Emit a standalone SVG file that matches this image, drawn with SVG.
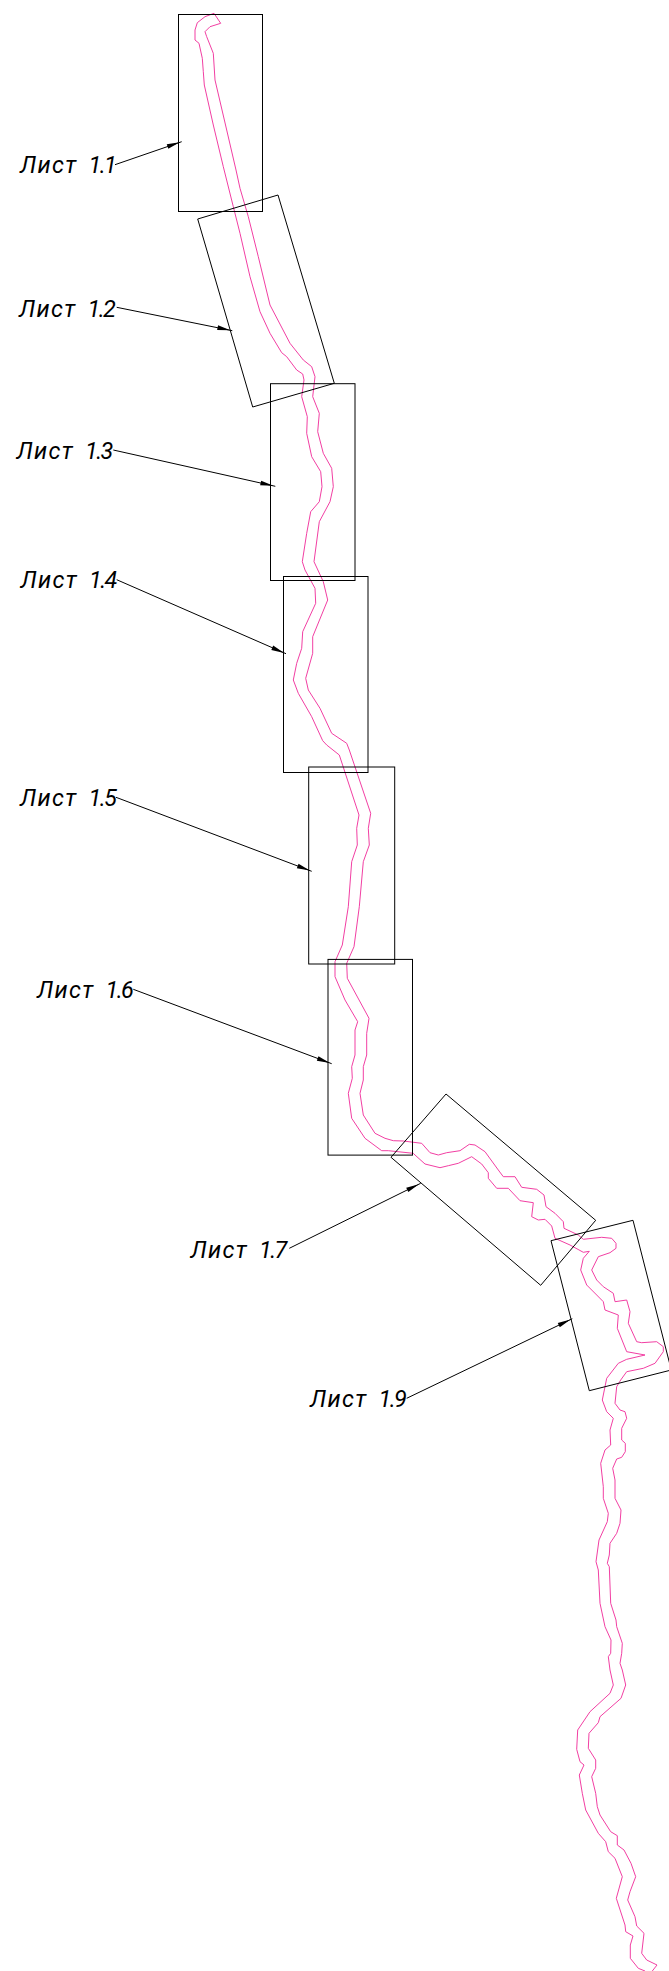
<svg xmlns="http://www.w3.org/2000/svg" width="669" height="1971" viewBox="0 0 669 1971">
<style>
.f{fill:none;stroke:#000;stroke-width:1}
.r{fill:none;stroke:#f23fa3;stroke-width:1;stroke-linejoin:round}
.l{fill:none;stroke:#000;stroke-width:1}
.t{font-family:"Roboto","Liberation Sans",sans-serif;font-style:italic;font-weight:400;font-size:23.5px;fill:#000;letter-spacing:1.3px;word-spacing:4px}
.n{letter-spacing:-1.6px}
</style>
<defs>
<marker id="a" markerUnits="userSpaceOnUse" markerWidth="15" markerHeight="6" viewBox="0 0 15 6" refX="15" refY="3" orient="auto" overflow="visible"><path d="M0,0.6 L13,3 L0,5.4 Z" fill="#000"/></marker>
</defs>
<rect width="669" height="1971" fill="#fff"/>
<g id="route">
<polyline class="r" points="220.7,23.3 214,13.3 205,16.7 197.3,22.7 195,30 195,40 199,43.3 202.3,58.3 203.3,71.7 204.3,85 213.3,125 223.3,166.7 233.3,206.7 240,233.3 250,276.7 260,311.7 270,333.3 281.7,352.7 286.7,356.7 296.7,370 302.7,374 304,380 301.7,396.7 307.3,416.7 306.7,433.3 311.7,456.7 320.7,471.7 322,486.7 319.3,501.7 310.7,511.7 306.7,533.3 302.3,561.7 305,570 315,588.3 315.7,603.3 302.7,631.7 301.7,648.3 296.7,663.3 293.3,680 298.3,693.3 311.7,716.7 322.7,740.7 326.7,745 339.3,755 359,815 356.7,828.3 357.3,845 351.7,861.7 348.3,906.7 342.3,945 335,961.7 335,976.7 345,1000 357.7,1021.7 355,1030 355,1055 351.7,1066.7 352.3,1078.3 348.3,1093.3 351.7,1118.3 365,1138.3 381.7,1150.7 388.3,1150.7 413.3,1153.3 415,1155 425,1164 440,1167.7 448.3,1165.7 458.3,1163.3 471.7,1156.7 481.7,1164 488.3,1172.7 488.3,1178.3 496.7,1188.3 508.3,1188.3 520,1200.7 533.3,1202.7 531.7,1216.7 538.3,1220 545,1219.3 551.7,1226 555,1238.3 570,1245 583.3,1252.3 589.3,1251.3 583.3,1258.3 580.7,1270 586.7,1285 596.7,1295 603.3,1301.7 605,1310 618.3,1315 617.3,1328.3 626.7,1351.7 645,1355 626.7,1359.3 618.3,1363.3 606.7,1378.3 602.3,1400 606.7,1411.7 613.3,1418.3 610,1430 610.7,1445 605,1450 600.7,1463.3 603.3,1486.7 603.3,1498.3 608.3,1513.3 607.3,1521.7 599,1540 596,1561.7 598.3,1570 600,1603.3 605,1626.7 611,1640 610.7,1653.3 608.3,1656.7 610,1670 613.3,1685 610,1693.3 590,1711.7 577.7,1730 576.7,1749.3 580,1761.7 584,1765 579.3,1775 582.3,1793.3 585.7,1810 598.3,1833.3 605.7,1841.7 608.3,1851.7 615,1858.3 622.3,1876.7 616.3,1898.3 625,1925 625.7,1931.7 633,1936 630.3,1945 630.3,1958.3 638.3,1968.3 645,1971"/>
<polyline class="r" points="220.7,23.3 210,26.7 205,31.7 206.7,36.7 213.3,53.3 215,80 226.7,130 236,170 240,188.3 248.3,216.7 258.3,256.7 270,305 290,343.3 303.3,360 311.7,366.7 315,376.7 312.7,396.7 319.3,413.3 317.7,431.7 323.3,453.3 331.7,468.3 333.3,486.7 330,501.7 319.3,521.7 314,561.7 323.3,581.7 327.7,600 312.7,636.7 312.7,653.3 305.7,678.3 308.3,690 320,708.3 331.7,733.3 346.7,743.3 349.3,750 370.7,813.3 368.3,828.3 369.3,845 363.3,861.7 359.3,906.7 354,946.7 346.7,963.3 347.3,978.3 369,1018.3 366.7,1033.3 366.7,1055 363.3,1066.7 363.3,1080 360,1093.3 363.3,1115 375,1133.3 385,1138.3 393.3,1140.7 403.3,1141 421.7,1143.3 430,1152.7 438.3,1155 446.7,1152.7 460,1150.7 469.3,1144.3 475,1145 485,1151.7 498.3,1170 503.3,1176.7 515,1176.7 521.7,1187.3 536.7,1189.3 544,1195 546,1206.7 555,1213.3 563.3,1221.7 564,1228.3 578.3,1235 583.3,1239.3 601.7,1237.3 611.7,1238.3 616,1243.3 616,1248.3 610,1252.7 598.3,1256.7 591.7,1270 596.7,1280 603.3,1286.7 613.3,1293.3 615,1301.7 626.7,1300 630,1311.7 628.3,1323.3 636.7,1341.7 641.7,1342.7 656.7,1341.7 663.3,1346.7 663.3,1351.7 655,1363.3 643.3,1368.3 626.7,1371.7 620.7,1380 616.7,1386.7 615,1403.3 620,1410 625,1411.7 626.7,1418.3 621.7,1428.3 621.7,1440 625.3,1443.3 625.3,1451.7 621.7,1457.3 616.7,1459 612.7,1468.3 615,1480 615,1498.3 621,1510 620,1523.3 616.7,1533.3 610,1543.3 609.3,1555 607.3,1563.3 609.3,1566.7 610.7,1603.3 616,1620 616.7,1626.7 622.3,1643.3 621.7,1653.3 620,1663.3 622.3,1670 625.7,1685 621,1698.3 600,1716.7 598.3,1722.7 589,1733.3 588.3,1748.3 595.7,1760 595.7,1768.3 591.7,1776.7 595.7,1793.3 597.3,1806.7 600,1815 610.7,1831.7 617.3,1835.7 617.3,1845 624,1850 631,1863.3 635.7,1876.7 630,1891.7 627.7,1900 635,1916.7 636.7,1926 644,1933.3 641.7,1953.3 646.7,1960 657,1965 652.3,1971"/>
</g>
<g id="sheet-1-1"><rect class="f" x="178.5" y="14.5" width="84" height="197"/><text class="t" x="20" y="173.3">Лист <tspan class="n">1.1</tspan></text></g>
<g id="sheet-1-2"><polygon class="f" points="197.7,219 278,195 334.3,383.3 252.7,407"/><text class="t" x="19" y="316.7">Лист <tspan class="n">1.2</tspan></text></g>
<g id="sheet-1-3"><rect class="f" x="270.5" y="383.7" width="84.5" height="196.8"/><text class="t" x="16.5" y="459.3">Лист <tspan class="n">1.3</tspan></text></g>
<g id="sheet-1-4"><rect class="f" x="283.5" y="576.5" width="84.5" height="196"/><text class="t" x="20.5" y="588.3">Лист <tspan class="n">1.4</tspan></text></g>
<g id="sheet-1-5"><rect class="f" x="308.7" y="767" width="86" height="197"/><text class="t" x="20" y="806">Лист <tspan class="n">1.5</tspan></text></g>
<g id="sheet-1-6"><rect class="f" x="328" y="959.4" width="84.5" height="195.7"/><text class="t" x="37" y="998.3">Лист <tspan class="n">1.6</tspan></text></g>
<g id="sheet-1-7"><polygon class="f" points="446,1094 595.7,1220.3 540.7,1285.3 391,1157.3"/><text class="t" x="190.5" y="1257.7">Лист <tspan class="n">1.7</tspan></text></g>
<g id="sheet-1-9"><polygon class="f" points="551,1240.7 633,1220.3 671.3,1370 589.3,1390.7"/><text class="t" x="310" y="1406.7">Лист <tspan class="n">1.9</tspan></text></g>
<g id="connectors">
<line class="l" marker-end="url(#a)" x1="115" y1="164.7" x2="181.7" y2="141.7"/>
<line class="l" marker-end="url(#a)" x1="116.7" y1="307.3" x2="232.3" y2="330.7"/>
<line class="l" marker-end="url(#a)" x1="113.3" y1="450" x2="275.3" y2="486.3"/>
<line class="l" marker-end="url(#a)" x1="116.7" y1="579.7" x2="286" y2="653.7"/>
<line class="l" marker-end="url(#a)" x1="116" y1="797.3" x2="311.7" y2="871.3"/>
<line class="l" marker-end="url(#a)" x1="133.3" y1="989.3" x2="331.7" y2="1063.7"/>
<line class="l" marker-end="url(#a)" x1="289.3" y1="1248.3" x2="420.7" y2="1183.3"/>
<line class="l" marker-end="url(#a)" x1="406.7" y1="1398.3" x2="572.3" y2="1318.7"/>
</g>
</svg>
